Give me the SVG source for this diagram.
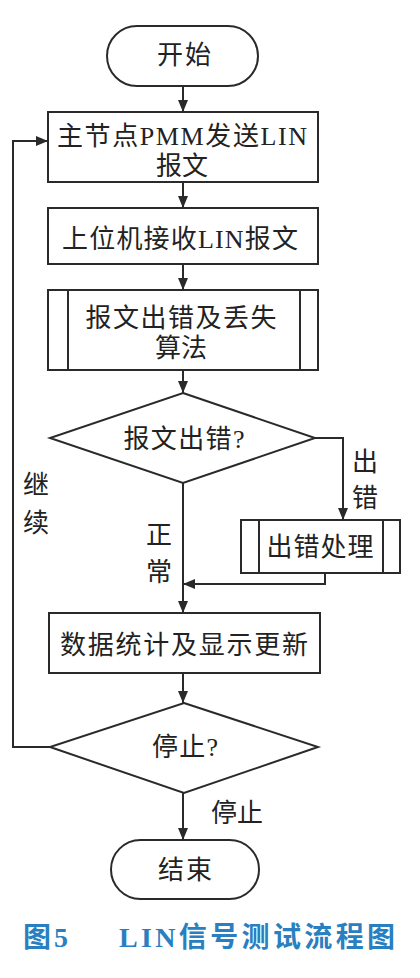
<svg xmlns="http://www.w3.org/2000/svg" width="420" height="978" viewBox="0 0 420 978">
<style>
.s{fill:#fff;stroke:#2a2a2a;stroke-width:2}
.l{fill:none;stroke:#2a2a2a;stroke-width:2}
.t{font-family:"Liberation Serif","Noto Sans CJK SC",serif;font-size:26px;fill:#222;text-anchor:middle;dominant-baseline:central}
.c{font-family:"Liberation Serif","Noto Sans CJK SC",serif;font-size:28px;font-weight:bold;fill:#2a7fc0;dominant-baseline:central}
</style>
<defs>
<marker id="a" viewBox="0 0 12 10" refX="12" refY="5" markerWidth="12" markerHeight="10" markerUnits="userSpaceOnUse" orient="auto">
<path d="M0,0 L12,5 L0,10 Z" fill="#2a2a2a"/>
</marker>
</defs>
<rect width="420" height="978" fill="#fff"/>
<g id="connectors">
<line class="l" x1="183" y1="86" x2="183" y2="112" marker-end="url(#a)"/>
<line class="l" x1="183" y1="182" x2="183" y2="208" marker-end="url(#a)"/>
<line class="l" x1="183" y1="264" x2="183" y2="290" marker-end="url(#a)"/>
<line class="l" x1="183" y1="370" x2="183" y2="393" marker-end="url(#a)"/>
<polyline class="l" points="315,438 343,438 343,520" marker-end="url(#a)"/>
<polyline class="l" points="325,573 325,584 183,584" marker-end="url(#a)"/>
<line class="l" x1="183" y1="483" x2="183" y2="613" marker-end="url(#a)"/>
<line class="l" x1="183" y1="673" x2="183" y2="703" marker-end="url(#a)"/>
<line class="l" x1="183" y1="793" x2="183" y2="840" marker-end="url(#a)"/>
<polyline class="l" points="50,747 13,747 13,141 48,141" marker-end="url(#a)"/>
<text class="t" x="365" y="462">出</text>
<text class="t" x="365" y="498">错</text>
<text class="t" x="159" y="535">正</text>
<text class="t" x="159" y="572">常</text>
<text class="t" x="36" y="485">继</text>
<text class="t" x="36" y="523">续</text>
<text class="t" x="237" y="813" textLength="52" lengthAdjust="spacing">停止</text>
</g>
<g id="start">
<rect class="s" x="107" y="26" width="151" height="60" rx="30"/>
<text class="t" x="184" y="55" textLength="54" lengthAdjust="spacing">开始</text>
</g>
<g id="send">
<rect class="s" x="48" y="112" width="270" height="70"/>
<text class="t" x="182" y="136" textLength="250" lengthAdjust="spacing">主节点PMM发送LIN</text>
<text class="t" x="182" y="166" textLength="52" lengthAdjust="spacing">报文</text>
</g>
<g id="receive">
<rect class="s" x="48" y="208" width="270" height="56"/>
<text class="t" x="180" y="239" textLength="236" lengthAdjust="spacing">上位机接收LIN报文</text>
</g>
<g id="algo">
<rect class="s" x="48" y="290" width="270" height="80"/>
<line class="l" x1="68" y1="290" x2="68" y2="370"/>
<line class="l" x1="300" y1="290" x2="300" y2="370"/>
<text class="t" x="181" y="318" textLength="191" lengthAdjust="spacing">报文出错及丢失</text>
<text class="t" x="181" y="348" textLength="52" lengthAdjust="spacing">算法</text>
</g>
<g id="check">
<polygon class="s" points="183,393 315,438 183,483 50,438"/>
<text class="t" x="184" y="439" textLength="121" lengthAdjust="spacing">报文出错?</text>
</g>
<g id="errhandle">
<rect class="s" x="241" y="520" width="159" height="53"/>
<line class="l" x1="259" y1="520" x2="259" y2="573"/>
<line class="l" x1="383" y1="520" x2="383" y2="573"/>
<text class="t" x="320" y="547" textLength="107" lengthAdjust="spacing">出错处理</text>
</g>
<g id="stats">
<rect class="s" x="49" y="613" width="271" height="60"/>
<text class="t" x="184" y="645" textLength="248" lengthAdjust="spacing">数据统计及显示更新</text>
</g>
<g id="stop">
<polygon class="s" points="184,703 318,747 184,793 50,747"/>
<text class="t" x="185" y="747" textLength="66" lengthAdjust="spacing">停止?</text>
</g>
<g id="end">
<rect class="s" x="111" y="840" width="148" height="59" rx="29.5"/>
<text class="t" x="185" y="870" textLength="54" lengthAdjust="spacing">结束</text>
</g>
<g id="caption">
<text class="c" x="23" y="937" textLength="45" lengthAdjust="spacing">图5</text>
<text class="c" x="119" y="937" textLength="276" lengthAdjust="spacing">LIN信号测试流程图</text>
</g>
</svg>
